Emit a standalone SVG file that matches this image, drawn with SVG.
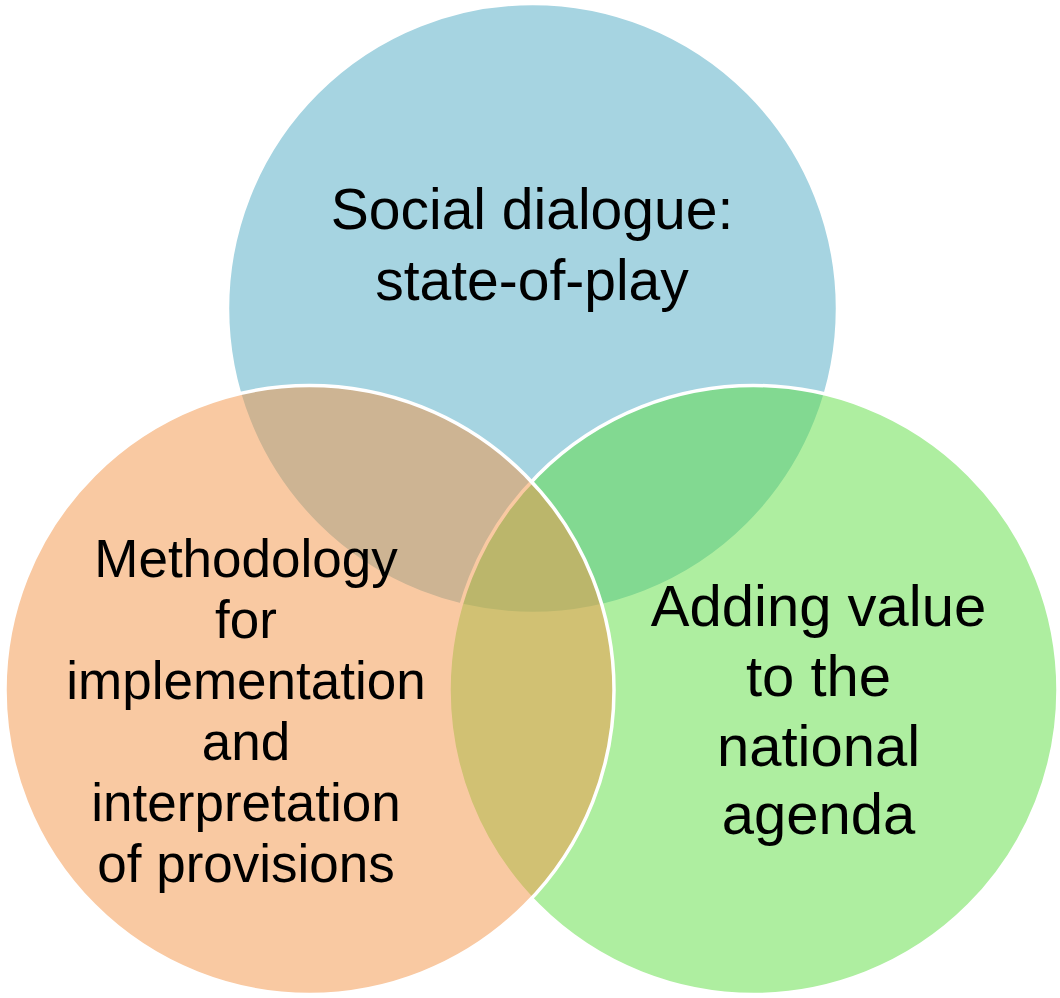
<svg xmlns="http://www.w3.org/2000/svg" width="1060" height="998" viewBox="0 0 1060 998">
  <style>
    .c { fill-opacity: 0.5; stroke: #FFFFFF; stroke-width: 3.5; }
    .t { font-family: "Liberation Sans", Arial, sans-serif; fill: #000000; text-anchor: middle; }
  </style>
  <rect width="1060" height="998" fill="#FFFFFF"/>
  <g id="node-social-dialogue">
    <circle class="c" cx="532.5" cy="308.5" r="305" fill="#4DA9C3"/>
  </g>
  <g id="node-adding-value">
    <circle class="c" cx="753.5" cy="690" r="304.5" fill="#5DDD41"/>
  </g>
  <g id="node-methodology">
    <circle class="c" cx="309.5" cy="690" r="304.5" fill="#F39345"/>
  </g>
  <g id="labels">
    <text class="t" font-size="57" x="532" y="229">Social dialogue:</text>
    <text class="t" font-size="57" x="532" y="300">state-of-play</text>
    <text class="t" font-size="53" x="246" y="577">Methodology</text>
    <text class="t" font-size="53" x="246" y="638">for</text>
    <text class="t" font-size="53" x="246" y="699">implementation</text>
    <text class="t" font-size="53" x="246" y="760">and</text>
    <text class="t" font-size="53" x="246" y="821">interpretation</text>
    <text class="t" font-size="53" x="246" y="882">of provisions</text>
    <text class="t" font-size="58" x="818.5" y="626">Adding value</text>
    <text class="t" font-size="58" x="818.5" y="696">to the</text>
    <text class="t" font-size="58" x="818.5" y="766">national</text>
    <text class="t" font-size="58" x="818.5" y="834">agenda</text>
  </g>
  <g id="connectors"/>
</svg>
